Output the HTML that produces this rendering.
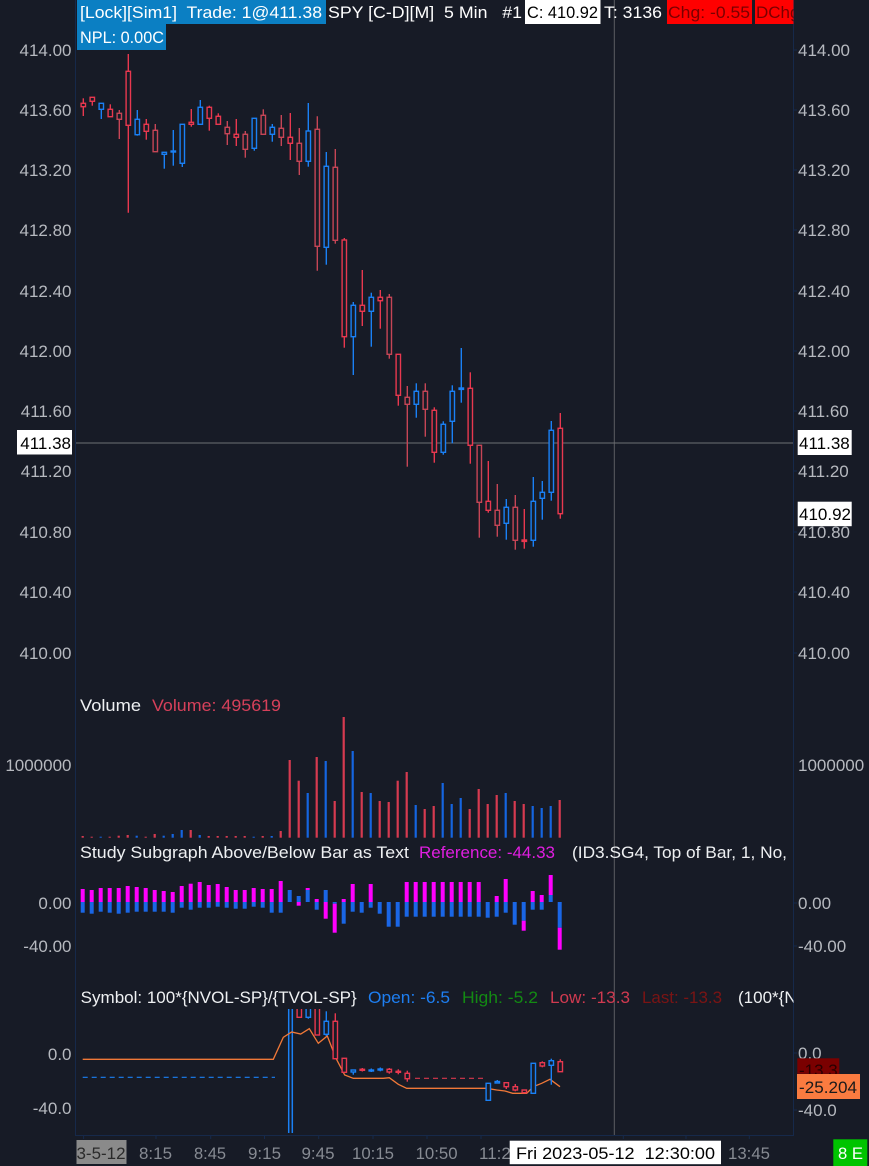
<!DOCTYPE html>
<html><head><meta charset="utf-8"><style>
html,body{margin:0;padding:0;background:#171b26;}
svg{display:block;font-family:"Liberation Sans",sans-serif;}
.ax{fill:#b6b9bf;font-size:17px;}
.tl{fill:#878b93;font-size:17px;}
.r{stroke:#e8384f}.m{stroke:#c64556}.b{stroke:#1a80f5}
.c line{stroke-width:1.4}
.c rect{fill:#171b26;stroke-width:1.4}
.vr{fill:#d63a50}.vb{fill:#1565e0}
.mg{fill:#ff00ff}.sb{fill:#1a66e6}
</style></head><body>
<svg width="869" height="1166" viewBox="0 0 869 1166" xmlns="http://www.w3.org/2000/svg">
<defs>
<clipPath id="plot"><rect x="76" y="0" width="717.5" height="1135"/></clipPath>
<clipPath id="bp"><rect x="76" y="1009" width="717.5" height="126"/></clipPath>
</defs>
<rect width="869" height="1166" fill="#171b26"/>

<!-- borders -->
<line x1="75.5" y1="0" x2="75.5" y2="1135.5" stroke="#16294a" stroke-width="1"/>
<line x1="793.5" y1="0" x2="793.5" y2="1135.5" stroke="#16294a" stroke-width="1"/>
<line x1="75" y1="1135.5" x2="794" y2="1135.5" stroke="#16294a" stroke-width="1"/>

<!-- crosshair -->
<line x1="614.3" y1="0" x2="614.3" y2="1135" stroke="#5c5e63" stroke-width="1"/>
<line x1="76" y1="443" x2="793" y2="443" stroke="#6e7074" stroke-width="1"/>

<!-- header -->
<rect x="77" y="0" width="249" height="24" fill="#0b7fc3"/>
<rect x="77" y="24" width="89" height="26" fill="#0b7fc3"/>
<text x="80" y="18" font-size="17" fill="#ffffff" textLength="242" lengthAdjust="spacingAndGlyphs" style="white-space:pre">[Lock][Sim1]  Trade: 1@411.38</text>
<text x="80" y="43" font-size="17" fill="#ffffff" textLength="84" lengthAdjust="spacingAndGlyphs">NPL: 0.00C</text>
<text x="328" y="18" font-size="17" fill="#ffffff" textLength="194" lengthAdjust="spacingAndGlyphs" style="white-space:pre">SPY [C-D][M]  5 Min   #1</text>
<rect x="525" y="0" width="75.5" height="24" fill="#ffffff"/>
<text x="527" y="18" font-size="17" fill="#000000" textLength="71" lengthAdjust="spacingAndGlyphs">C: 410.92</text>
<text x="604" y="18" font-size="17" fill="#ffffff" textLength="58" lengthAdjust="spacingAndGlyphs">T: 3136</text>
<rect x="667" y="0" width="85" height="24" fill="#ff0000"/>
<text x="668" y="18" font-size="17" fill="#7a0000" textLength="82" lengthAdjust="spacingAndGlyphs">Chg: -0.55</text>
<rect x="755" y="0" width="38.5" height="24" fill="#ff0000"/>
<g clip-path="url(#plot)"><text x="756" y="18" font-size="17" fill="#7a0000">DChg</text></g>

<!-- price axis labels left -->
<g class="ax" text-anchor="end">
<text x="71.5" y="56">414.00</text>
<text x="71.5" y="116">413.60</text>
<text x="71.5" y="176">413.20</text>
<text x="71.5" y="236">412.80</text>
<text x="71.5" y="297">412.40</text>
<text x="71.5" y="357">412.00</text>
<text x="71.5" y="417">411.60</text>
<text x="71.5" y="477">411.20</text>
<text x="71.5" y="538">410.80</text>
<text x="71.5" y="598">410.40</text>
<text x="71.5" y="659">410.00</text>
<text x="71.5" y="771">1000000</text>
<text x="71.5" y="909">0.00</text>
<text x="71.5" y="952">-40.00</text>
<text x="71.5" y="1060">0.0</text>
<text x="71.5" y="1114">-40.0</text>
</g>
<rect x="17" y="430" width="55" height="24.5" fill="#ffffff"/>
<text x="71" y="449" text-anchor="end" font-size="17" fill="#000">411.38</text>

<!-- price axis labels right -->
<g class="ax">
<text x="798" y="56">414.00</text>
<text x="798" y="116">413.60</text>
<text x="798" y="176">413.20</text>
<text x="798" y="236">412.80</text>
<text x="798" y="297">412.40</text>
<text x="798" y="357">412.00</text>
<text x="798" y="417">411.60</text>
<text x="798" y="477">411.20</text>
<text x="798" y="538">410.80</text>
<text x="798" y="598">410.40</text>
<text x="798" y="659">410.00</text>
<text x="798" y="771">1000000</text>
<text x="798" y="909">0.00</text>
<text x="798" y="952">-40.00</text>
<text x="798" y="1059">0.0</text>
<text x="798" y="1116">-40.0</text>
</g>
<g stroke="#16294a" stroke-width="1">
<line x1="794" y1="50" x2="797" y2="50"/><line x1="794" y1="110" x2="797" y2="110"/><line x1="794" y1="170" x2="797" y2="170"/><line x1="794" y1="230" x2="797" y2="230"/><line x1="794" y1="291" x2="797" y2="291"/><line x1="794" y1="351" x2="797" y2="351"/><line x1="794" y1="411" x2="797" y2="411"/><line x1="794" y1="471" x2="797" y2="471"/><line x1="794" y1="532" x2="797" y2="532"/><line x1="794" y1="592" x2="797" y2="592"/><line x1="794" y1="653" x2="797" y2="653"/><line x1="794" y1="903" x2="797" y2="903"/><line x1="794" y1="946" x2="797" y2="946"/><line x1="794" y1="1053" x2="797" y2="1053"/><line x1="794" y1="1110" x2="797" y2="1110"/>
</g>
<rect x="797.7" y="430" width="54" height="25" fill="#ffffff"/>
<text x="799" y="449" font-size="17" fill="#000">411.38</text>
<rect x="797.7" y="501.7" width="54" height="24.5" fill="#ffffff"/>
<text x="799" y="520" font-size="17" fill="#000">410.92</text>

<!-- main candles -->
<g class="c">
<g class="r"><line x1="83.3" y1="98.3" x2="83.3" y2="116"/><rect x="81.1" y="103.3" width="4.4" height="3.4"/></g>
<g class="r"><line x1="92.3" y1="97.3" x2="92.3" y2="105.7"/><rect x="90.1" y="97.3" width="4.4" height="4"/></g>
<g class="b"><line x1="101.3" y1="103.3" x2="101.3" y2="119"/><rect x="99.1" y="103.3" width="4.4" height="6"/></g>
<g class="r"><line x1="110.3" y1="104.3" x2="110.3" y2="116.7"/><rect x="108.1" y="109.3" width="4.4" height="7.4"/></g>
<g class="m"><line x1="119.3" y1="110" x2="119.3" y2="139"/><rect x="117.1" y="113.3" width="4.4" height="6"/></g>
<g class="r"><line x1="128.3" y1="54" x2="128.3" y2="212.7"/><rect x="126.1" y="71.3" width="4.4" height="54"/></g>
<g class="b"><line x1="137.3" y1="110" x2="137.3" y2="135.7"/><rect x="135.1" y="119.3" width="4.4" height="15.4"/></g>
<g class="r"><line x1="146.3" y1="119" x2="146.3" y2="139.7"/><rect x="144.1" y="124.3" width="4.4" height="7"/></g>
<g class="m"><line x1="155.3" y1="124" x2="155.3" y2="151.7"/><rect x="153.1" y="130.3" width="4.4" height="21.4"/></g>
<g class="b"><line x1="164.3" y1="152.3" x2="164.3" y2="168.7"/><rect x="162.1" y="152.3" width="4.4" height="2"/></g>
<g class="b"><line x1="173.3" y1="130" x2="173.3" y2="165.7"/><rect x="171.1" y="151" width="4.4" height="1"/></g>
<g class="b"><line x1="182.3" y1="124.3" x2="182.3" y2="167"/><rect x="180.1" y="124.3" width="4.4" height="39"/></g>
<g class="r"><line x1="191.3" y1="109" x2="191.3" y2="126.7"/><rect x="189.1" y="122.3" width="4.4" height="2"/></g>
<g class="b"><line x1="200.3" y1="100" x2="200.3" y2="125"/><rect x="198.1" y="107.3" width="4.4" height="17"/></g>
<g class="r"><line x1="209.3" y1="105.7" x2="209.3" y2="130.7"/><rect x="207.1" y="107.3" width="4.4" height="11"/></g>
<g class="r"><line x1="218.3" y1="113.3" x2="218.3" y2="124.3"/><rect x="216.1" y="116.3" width="4.4" height="8"/></g>
<g class="m"><line x1="227.3" y1="121" x2="227.3" y2="145"/><rect x="225.1" y="127.3" width="4.4" height="6.4"/></g>
<g class="r"><line x1="236.3" y1="119" x2="236.3" y2="146"/><rect x="234.1" y="134.3" width="4.4" height="3"/></g>
<g class="m"><line x1="245.3" y1="131" x2="245.3" y2="157.7"/><rect x="243.1" y="134.3" width="4.4" height="15"/></g>
<g class="b"><line x1="254.3" y1="118.3" x2="254.3" y2="150.7"/><rect x="252.1" y="118.3" width="4.4" height="30"/></g>
<g class="m"><line x1="263.3" y1="109.3" x2="263.3" y2="135"/><rect x="261.1" y="115.3" width="4.4" height="19"/></g>
<g class="b"><line x1="272.3" y1="124" x2="272.3" y2="141.7"/><rect x="270.1" y="127.3" width="4.4" height="7"/></g>
<g class="m"><line x1="281.3" y1="115" x2="281.3" y2="146"/><rect x="279.1" y="128.3" width="4.4" height="9"/></g>
<g class="r"><line x1="290.3" y1="113" x2="290.3" y2="160"/><rect x="288.1" y="137.3" width="4.4" height="6"/></g>
<g class="m"><line x1="299.3" y1="128" x2="299.3" y2="175"/><rect x="297.1" y="143.3" width="4.4" height="18"/></g>
<g class="b"><line x1="308.3" y1="103" x2="308.3" y2="166.7"/><rect x="306.1" y="131" width="4.4" height="30.3"/></g>
<g class="m"><line x1="317.3" y1="116.3" x2="317.3" y2="270.7"/><rect x="315.1" y="129.3" width="4.4" height="117"/></g>
<g class="b"><line x1="326.3" y1="152" x2="326.3" y2="264.7"/><rect x="324.1" y="166.3" width="4.4" height="81"/></g>
<g class="m"><line x1="335.3" y1="149" x2="335.3" y2="243.7"/><rect x="333.1" y="167.3" width="4.4" height="73"/></g>
<g class="r"><line x1="344.3" y1="238" x2="344.3" y2="347.7"/><rect x="342.1" y="240" width="4.4" height="96.7"/></g>
<g class="b"><line x1="353.3" y1="302" x2="353.3" y2="375"/><rect x="351.1" y="305.3" width="4.4" height="31.4"/></g>
<g class="r"><line x1="362.3" y1="270" x2="362.3" y2="326"/><rect x="360.1" y="305.3" width="4.4" height="6"/></g>
<g class="b"><line x1="371.3" y1="292.7" x2="371.3" y2="346.7"/><rect x="369.1" y="297.3" width="4.4" height="14"/></g>
<g class="r"><line x1="380.3" y1="290" x2="380.3" y2="328.7"/><rect x="378.1" y="297.3" width="4.4" height="3.4"/></g>
<g class="m"><line x1="389.3" y1="294" x2="389.3" y2="358.7"/><rect x="387.1" y="297.3" width="4.4" height="57"/></g>
<g class="r"><line x1="398.3" y1="354.3" x2="398.3" y2="405.7"/><rect x="396.1" y="354.3" width="4.4" height="41"/></g>
<g class="m"><line x1="407.3" y1="386" x2="407.3" y2="466.7"/><rect x="405.1" y="397.3" width="4.4" height="7"/></g>
<g class="b"><line x1="416.3" y1="383.3" x2="416.3" y2="417.7"/><rect x="414.1" y="391.3" width="4.4" height="13"/></g>
<g class="m"><line x1="425.3" y1="383.3" x2="425.3" y2="436.7"/><rect x="423.1" y="391.3" width="4.4" height="18"/></g>
<g class="r"><line x1="434.3" y1="407.3" x2="434.3" y2="462.7"/><rect x="432.1" y="410.3" width="4.4" height="42"/></g>
<g class="b"><line x1="443.3" y1="421.3" x2="443.3" y2="454.7"/><rect x="441.1" y="424.3" width="4.4" height="28"/></g>
<g class="b"><line x1="452.3" y1="385.3" x2="452.3" y2="443.3"/><rect x="450.1" y="391.3" width="4.4" height="30"/></g>
<g class="b"><line x1="461.3" y1="348" x2="461.3" y2="402.7"/><rect x="459.1" y="388" width="4.4" height="1.4"/></g>
<g class="r"><line x1="470.3" y1="372.3" x2="470.3" y2="463.7"/><rect x="468.1" y="388.3" width="4.4" height="57"/></g>
<g class="m"><line x1="479.3" y1="445.3" x2="479.3" y2="537.7"/><rect x="477.1" y="445.3" width="4.4" height="57"/></g>
<g class="r"><line x1="488.3" y1="461" x2="488.3" y2="512.7"/><rect x="486.1" y="501.3" width="4.4" height="9"/></g>
<g class="m"><line x1="497.3" y1="484" x2="497.3" y2="536.7"/><rect x="495.1" y="510.3" width="4.4" height="15"/></g>
<g class="b"><line x1="506.3" y1="499" x2="506.3" y2="539.7"/><rect x="504.1" y="507.3" width="4.4" height="16"/></g>
<g class="m"><line x1="515.3" y1="495" x2="515.3" y2="549.7"/><rect x="513.1" y="507.3" width="4.4" height="33"/></g>
<g class="r"><line x1="524.3" y1="509" x2="524.3" y2="548.7"/><rect x="522.1" y="540" width="4.4" height="1.4"/></g>
<g class="b"><line x1="533.3" y1="477" x2="533.3" y2="546.7"/><rect x="531.1" y="501.3" width="4.4" height="39"/></g>
<g class="b"><line x1="542.3" y1="481" x2="542.3" y2="519.7"/><rect x="540.1" y="492.3" width="4.4" height="6"/></g>
<g class="b"><line x1="551.3" y1="421" x2="551.3" y2="500.7"/><rect x="549.1" y="430.3" width="4.4" height="62"/></g>
<g class="r"><line x1="560.3" y1="413" x2="560.3" y2="518.7"/><rect x="558.1" y="428.3" width="4.4" height="85.4"/></g>
</g>

<!-- Volume -->
<text x="80" y="711" font-size="17" fill="#eef0f2" textLength="61" lengthAdjust="spacingAndGlyphs">Volume</text>
<text x="152" y="711" font-size="17" fill="#d6405a" textLength="129" lengthAdjust="spacingAndGlyphs">Volume: 495619</text>
<g>
<rect class="vr" x="81.6" y="836" width="2.2" height="1.7"/>
<rect class="vr" x="90.6" y="836.7" width="2.2" height="1"/>
<rect class="vb" x="99.6" y="836.7" width="2.2" height="1"/>
<rect class="vr" x="108.6" y="836.7" width="2.2" height="1"/>
<rect class="vr" x="117.6" y="835.7" width="2.2" height="2"/>
<rect class="vr" x="126.6" y="835" width="2.2" height="2.7"/>
<rect class="vb" x="135.6" y="835.7" width="2.2" height="2"/>
<rect class="vr" x="144.6" y="836.7" width="2.2" height="1"/>
<rect class="vr" x="153.6" y="834" width="2.2" height="3.7"/>
<rect class="vb" x="162.6" y="835.7" width="2.2" height="2"/>
<rect class="vb" x="171.6" y="834" width="2.2" height="3.7"/>
<rect class="vb" x="180.6" y="830" width="2.2" height="7.7"/>
<rect class="vr" x="189.6" y="830" width="2.2" height="7.7"/>
<rect class="vb" x="198.6" y="835" width="2.2" height="2.7"/>
<rect class="vr" x="207.6" y="836" width="2.2" height="1.7"/>
<rect class="vr" x="216.6" y="836" width="2.2" height="1.7"/>
<rect class="vr" x="225.6" y="836" width="2.2" height="1.7"/>
<rect class="vr" x="234.6" y="836" width="2.2" height="1.7"/>
<rect class="vr" x="243.6" y="836" width="2.2" height="1.7"/>
<rect class="vb" x="252.6" y="836.7" width="2.2" height="1"/>
<rect class="vr" x="261.6" y="836" width="2.2" height="1.7"/>
<rect class="vb" x="270.6" y="836" width="2.2" height="1.7"/>
<rect class="vr" x="279.6" y="831" width="2.2" height="6.7"/>
<rect class="vr" x="288.6" y="760" width="2.2" height="77.7"/>
<rect class="vr" x="297.6" y="780.7" width="2.2" height="57"/>
<rect class="vb" x="306.6" y="793" width="2.2" height="44.7"/>
<rect class="vr" x="315.6" y="757" width="2.2" height="80.7"/>
<rect class="vb" x="324.6" y="761" width="2.2" height="76.7"/>
<rect class="vr" x="333.6" y="801" width="2.2" height="36.7"/>
<rect class="vr" x="342.6" y="717" width="2.2" height="120.7"/>
<rect class="vb" x="351.6" y="751" width="2.2" height="86.7"/>
<rect class="vr" x="360.6" y="792" width="2.2" height="45.7"/>
<rect class="vb" x="369.6" y="793" width="2.2" height="44.7"/>
<rect class="vr" x="378.6" y="801" width="2.2" height="36.7"/>
<rect class="vr" x="387.6" y="802" width="2.2" height="35.7"/>
<rect class="vr" x="396.6" y="780.7" width="2.2" height="57"/>
<rect class="vr" x="405.6" y="772" width="2.2" height="65.7"/>
<rect class="vb" x="414.6" y="805" width="2.2" height="32.7"/>
<rect class="vr" x="423.6" y="809" width="2.2" height="28.7"/>
<rect class="vr" x="432.6" y="806" width="2.2" height="31.7"/>
<rect class="vb" x="441.6" y="783" width="2.2" height="54.7"/>
<rect class="vb" x="450.6" y="804" width="2.2" height="33.7"/>
<rect class="vb" x="459.6" y="798" width="2.2" height="39.7"/>
<rect class="vr" x="468.6" y="809" width="2.2" height="28.7"/>
<rect class="vr" x="477.6" y="789" width="2.2" height="48.7"/>
<rect class="vr" x="486.6" y="804" width="2.2" height="33.7"/>
<rect class="vr" x="495.6" y="795" width="2.2" height="42.7"/>
<rect class="vb" x="504.6" y="793" width="2.2" height="44.7"/>
<rect class="vr" x="513.6" y="801" width="2.2" height="36.7"/>
<rect class="vr" x="522.6" y="804" width="2.2" height="33.7"/>
<rect class="vb" x="531.6" y="806" width="2.2" height="31.7"/>
<rect class="vb" x="540.6" y="808" width="2.2" height="29.7"/>
<rect class="vb" x="549.6" y="806" width="2.2" height="31.7"/>
<rect class="vr" x="558.6" y="800" width="2.2" height="37.7"/>
</g>

<!-- Study subgraph -->
<text x="80" y="858" font-size="17" fill="#eef0f2" textLength="329" lengthAdjust="spacingAndGlyphs">Study Subgraph Above/Below Bar as Text</text>
<text x="419" y="858" font-size="17" fill="#e01ee0" textLength="136" lengthAdjust="spacingAndGlyphs">Reference: -44.33</text>
<text x="572" y="858" font-size="17" fill="#eef0f2" textLength="215" lengthAdjust="spacingAndGlyphs">(ID3.SG4, Top of Bar, 1, No,</text>
<g>
<rect class="mg" x="80.7" y="889" width="4" height="13"/><rect class="sb" x="80.7" y="902" width="4" height="10.7"/>
<rect class="mg" x="89.7" y="890" width="4" height="12"/><rect class="sb" x="89.7" y="902" width="4" height="11.7"/>
<rect class="mg" x="98.7" y="888" width="4" height="14"/><rect class="sb" x="98.7" y="902" width="4" height="9.7"/>
<rect class="mg" x="107.7" y="888" width="4" height="14"/><rect class="sb" x="107.7" y="902" width="4" height="10.7"/>
<rect class="mg" x="116.7" y="888" width="4" height="14"/><rect class="sb" x="116.7" y="902" width="4" height="11.7"/>
<rect class="mg" x="125.7" y="886" width="4" height="16"/><rect class="sb" x="125.7" y="902" width="4" height="10.7"/>
<rect class="mg" x="134.7" y="887" width="4" height="15"/><rect class="sb" x="134.7" y="902" width="4" height="9.7"/>
<rect class="mg" x="143.7" y="888" width="4" height="14"/><rect class="sb" x="143.7" y="902" width="4" height="9.7"/>
<rect class="mg" x="152.7" y="890" width="4" height="12"/><rect class="sb" x="152.7" y="902" width="4" height="9.7"/>
<rect class="mg" x="161.7" y="891" width="4" height="11"/><rect class="sb" x="161.7" y="902" width="4" height="9.7"/>
<rect class="mg" x="170.7" y="892" width="4" height="10"/><rect class="sb" x="170.7" y="902" width="4" height="10.7"/>
<rect class="mg" x="179.7" y="886" width="4" height="16"/><rect class="sb" x="179.7" y="902" width="4" height="5.7"/>
<rect class="mg" x="188.7" y="883.7" width="4" height="18.3"/><rect class="sb" x="188.7" y="902" width="4" height="7.7"/>
<rect class="mg" x="197.7" y="882" width="4" height="20"/><rect class="sb" x="197.7" y="902" width="4" height="5.7"/>
<rect class="mg" x="206.7" y="885" width="4" height="17"/><rect class="sb" x="206.7" y="902" width="4" height="5.7"/>
<rect class="mg" x="215.7" y="884" width="4" height="18"/><rect class="sb" x="215.7" y="902" width="4" height="4.7"/>
<rect class="mg" x="224.7" y="887" width="4" height="15"/><rect class="sb" x="224.7" y="902" width="4" height="5.7"/>
<rect class="mg" x="233.7" y="890" width="4" height="12"/><rect class="sb" x="233.7" y="902" width="4" height="6.7"/>
<rect class="mg" x="242.7" y="890" width="4" height="12"/><rect class="sb" x="242.7" y="902" width="4" height="6.7"/>
<rect class="mg" x="251.7" y="888" width="4" height="14"/><rect class="sb" x="251.7" y="902" width="4" height="4.7"/>
<rect class="mg" x="260.7" y="889" width="4" height="13"/><rect class="sb" x="260.7" y="902" width="4" height="5.7"/>
<rect class="mg" x="269.7" y="889" width="4" height="13"/><rect class="sb" x="269.7" y="902" width="4" height="10.7"/>
<rect class="mg" x="278.7" y="881" width="4" height="21"/><rect class="sb" x="278.7" y="902" width="4" height="10.7"/>
<rect class="sb" x="287.7" y="890" width="4" height="12"/>
<rect class="sb" x="296.7" y="896" width="4" height="6"/><rect class="mg" x="296.7" y="902" width="4" height="3.7"/>
<rect class="mg" x="305.7" y="888" width="4" height="2"/><rect class="sb" x="305.7" y="890" width="4" height="12"/>
<rect class="mg" x="314.7" y="899" width="4" height="3"/><rect class="sb" x="314.7" y="902" width="4" height="7.7"/>
<rect class="sb" x="323.7" y="890" width="4" height="12"/><rect class="mg" x="323.7" y="902" width="4" height="16.7"/>
<rect class="sb" x="332.7" y="902" width="4" height="1.7"/><rect class="mg" x="332.7" y="903.7" width="4" height="29"/>
<rect class="mg" x="341.7" y="899" width="4" height="3"/><rect class="sb" x="341.7" y="902" width="4" height="21.7"/>
<rect class="mg" x="350.7" y="884" width="4" height="18"/><rect class="sb" x="350.7" y="902" width="4" height="9.7"/>
<rect class="sb" x="359.7" y="902" width="4" height="10.7"/>
<rect class="mg" x="368.7" y="884" width="4" height="18"/><rect class="sb" x="368.7" y="902" width="4" height="5.7"/>
<rect class="sb" x="377.7" y="902" width="4" height="11.7"/>
<rect class="sb" x="386.7" y="902" width="4" height="24.7"/>
<rect class="sb" x="395.7" y="902" width="4" height="24.7"/>
<rect class="mg" x="404.7" y="882" width="4" height="20"/><rect class="sb" x="404.7" y="902" width="4" height="14.7"/>
<rect class="mg" x="413.7" y="882" width="4" height="20"/><rect class="sb" x="413.7" y="902" width="4" height="14.7"/>
<rect class="mg" x="422.7" y="882" width="4" height="20"/><rect class="sb" x="422.7" y="902" width="4" height="14.7"/>
<rect class="mg" x="431.7" y="882" width="4" height="20"/><rect class="sb" x="431.7" y="902" width="4" height="14.7"/>
<rect class="mg" x="440.7" y="882" width="4" height="20"/><rect class="sb" x="440.7" y="902" width="4" height="14.7"/>
<rect class="mg" x="449.7" y="882" width="4" height="20"/><rect class="sb" x="449.7" y="902" width="4" height="14.7"/>
<rect class="mg" x="458.7" y="882" width="4" height="20"/><rect class="sb" x="458.7" y="902" width="4" height="14.7"/>
<rect class="mg" x="467.7" y="882" width="4" height="20"/><rect class="sb" x="467.7" y="902" width="4" height="14.7"/>
<rect class="mg" x="476.7" y="882" width="4" height="20"/><rect class="sb" x="476.7" y="902" width="4" height="14.7"/>
<rect class="sb" x="485.7" y="902" width="4" height="15.7"/>
<rect class="mg" x="494.7" y="896" width="4" height="6"/><rect class="sb" x="494.7" y="902" width="4" height="14.7"/>
<rect class="mg" x="503.7" y="879" width="4" height="23"/><rect class="sb" x="503.7" y="902" width="4" height="10.7"/>
<rect class="sb" x="512.7" y="902" width="4" height="22.7"/>
<rect class="sb" x="521.7" y="902" width="4" height="18.7"/><rect class="mg" x="521.7" y="920.7" width="4" height="10"/>
<rect class="mg" x="530.7" y="891" width="4" height="11"/><rect class="sb" x="530.7" y="902" width="4" height="7.7"/>
<rect class="mg" x="539.7" y="895" width="4" height="7"/><rect class="sb" x="539.7" y="902" width="4" height="7.7"/>
<rect class="mg" x="548.7" y="875" width="4" height="20"/><rect class="sb" x="548.7" y="895" width="4" height="7"/>
<rect class="sb" x="557.7" y="902" width="4" height="25.7"/><rect class="mg" x="557.7" y="927.7" width="4" height="22"/>
</g>

<!-- Bottom panel -->
<text x="80.7" y="1003" font-size="17" fill="#eef0f2" textLength="276" lengthAdjust="spacingAndGlyphs">Symbol: 100*{NVOL-SP}/{TVOL-SP}</text>
<text x="368" y="1003" font-size="17" fill="#1e7ef0" textLength="82" lengthAdjust="spacingAndGlyphs">Open: -6.5</text>
<text x="462" y="1003" font-size="17" fill="#138a13" textLength="76" lengthAdjust="spacingAndGlyphs">High: -5.2</text>
<text x="550" y="1003" font-size="17" fill="#d03a50" textLength="80" lengthAdjust="spacingAndGlyphs">Low: -13.3</text>
<text x="642" y="1003" font-size="17" fill="#7a1414" textLength="80" lengthAdjust="spacingAndGlyphs">Last: -13.3</text>
<g clip-path="url(#plot)"><text x="738" y="1003" font-size="17" fill="#eef0f2">(100*{NVOL</text></g>

<g clip-path="url(#bp)">
<line x1="82.7" y1="1077.3" x2="275" y2="1077.3" stroke="#1a80f5" stroke-width="1.2" stroke-dasharray="5,4"/>
<line x1="415" y1="1078.3" x2="483.3" y2="1078.3" stroke="#d8384e" stroke-width="1.2" stroke-dasharray="5,4"/>
<line x1="288.7" y1="1009" x2="288.7" y2="1133" stroke="#1a80f5" stroke-width="1.5"/>
<line x1="292.3" y1="1009" x2="292.3" y2="1133" stroke="#1a80f5" stroke-width="1.5"/>
<polyline fill="none" stroke="#f07838" stroke-width="1.3" points="82.7,1059.3 273.3,1059.3 283.3,1037.3 291.7,1032 300.7,1034 309.3,1028.7 318.3,1043.3 327.3,1036 336,1058.3 344.7,1075 353.3,1078.3 383.3,1078.3 389.3,1077.7 398.3,1084.3 406.7,1088.3 486.7,1088.3 496.7,1090 505,1091 512.7,1093.3 526.7,1093.3 533.3,1086.7 541.7,1083.3 550,1079.3 560,1086.7"/>
<g class="c">
<g class="r"><rect x="297.1" y="1005" width="4.4" height="12.3"/></g>
<g class="b"><line x1="308.3" y1="1005" x2="308.3" y2="1018.7"/><rect x="306.1" y="1005" width="4.4" height="12.3"/></g>
<g class="r"><rect x="315.1" y="1005" width="4.4" height="30"/></g>
<g class="b"><line x1="326.3" y1="1011.3" x2="326.3" y2="1036"/><rect x="324.1" y="1021.3" width="4.4" height="13"/></g>
<g class="r"><line x1="335.3" y1="1013.3" x2="335.3" y2="1059.3"/><rect x="333.1" y="1021.3" width="4.4" height="37.4"/></g>
<g class="r"><rect x="342.1" y="1058.3" width="4.4" height="14"/></g>
<g class="b"><line x1="353.3" y1="1070" x2="353.3" y2="1074.7"/><rect x="351.1" y="1070" width="4.4" height="2"/></g>
<g class="r"><line x1="362.3" y1="1068" x2="362.3" y2="1071.5"/><rect x="360.1" y="1069.3" width="4.4" height="1"/></g>
<g class="b"><line x1="371.3" y1="1068.5" x2="371.3" y2="1072"/><rect x="369.1" y="1070" width="4.4" height="1"/></g>
<g class="b"><line x1="380.3" y1="1067.5" x2="380.3" y2="1071.3"/><rect x="378.1" y="1069" width="4.4" height="1"/></g>
<g class="r"><line x1="389.3" y1="1068" x2="389.3" y2="1073.7"/><rect x="387.1" y="1069.3" width="4.4" height="2.7"/></g>
<g class="r"><line x1="398.3" y1="1069.3" x2="398.3" y2="1074.3"/><rect x="396.1" y="1071.3" width="4.4" height="1"/></g>
<g class="r"><line x1="407.3" y1="1070.7" x2="407.3" y2="1081.7"/><rect x="405.1" y="1073.3" width="4.4" height="5.4"/></g>
<g class="b"><rect x="486.1" y="1083.3" width="4.4" height="17"/></g>
<g class="b"><line x1="497.3" y1="1080" x2="497.3" y2="1083.3"/><rect x="495.1" y="1081.5" width="4.4" height="1.5"/></g>
<g class="r"><line x1="506.3" y1="1082" x2="506.3" y2="1089"/><rect x="504.1" y="1082.7" width="4.4" height="4"/></g>
<g class="r"><line x1="515.3" y1="1084" x2="515.3" y2="1091.3"/><rect x="513.1" y="1086.7" width="4.4" height="3.3"/></g>
<g class="r"><rect x="522.1" y="1090" width="4.4" height="2.7"/></g>
<g class="b"><rect x="531.1" y="1063.3" width="4.4" height="30"/></g>
<g class="r"><line x1="542.3" y1="1061.3" x2="542.3" y2="1067.3"/><rect x="540.1" y="1062.7" width="4.4" height="3.3"/></g>
<g class="b"><line x1="551.3" y1="1058.7" x2="551.3" y2="1084.7"/><rect x="549.1" y="1060.7" width="4.4" height="4.6"/></g>
<g class="r"><line x1="560.3" y1="1059.3" x2="560.3" y2="1061.7"/><rect x="558.1" y="1061.7" width="4.4" height="10"/></g>
</g>
</g>

<!-- bottom right value boxes -->
<rect x="797.3" y="1058.3" width="42" height="15.5" fill="#7a0000"/>
<text x="799" y="1076" font-size="17" fill="#2a0000">-13.3</text>
<rect x="797" y="1074" width="63" height="25" fill="#fa7b40"/>
<text x="799" y="1093" font-size="17" fill="#1a1a1a" textLength="58" lengthAdjust="spacingAndGlyphs">-25.204</text>

<!-- time axis -->
<g stroke="#16294a" stroke-width="1">
<line x1="83.6" y1="1135" x2="83.6" y2="1139"/><line x1="156" y1="1135" x2="156" y2="1139"/><line x1="210.7" y1="1135" x2="210.7" y2="1139"/><line x1="264.5" y1="1135" x2="264.5" y2="1139"/><line x1="318.7" y1="1135" x2="318.7" y2="1139"/><line x1="373" y1="1135" x2="373" y2="1139"/><line x1="427" y1="1135" x2="427" y2="1139"/><line x1="481" y1="1135" x2="481" y2="1139"/><line x1="623.3" y1="1135" x2="623.3" y2="1139"/><line x1="686" y1="1135" x2="686" y2="1139"/><line x1="749.3" y1="1135" x2="749.3" y2="1139"/>
</g>
<rect x="76.5" y="1140" width="50" height="24" fill="#8a8a8a"/>
<text x="76.5" y="1159" font-size="17" fill="#2a2a2a" textLength="49" lengthAdjust="spacingAndGlyphs">3-5-12</text>
<g class="tl">
<text x="139" y="1159" textLength="33" lengthAdjust="spacingAndGlyphs">8:15</text>
<text x="194" y="1159" textLength="32" lengthAdjust="spacingAndGlyphs">8:45</text>
<text x="248" y="1159" textLength="33" lengthAdjust="spacingAndGlyphs">9:15</text>
<text x="301.5" y="1159" textLength="33" lengthAdjust="spacingAndGlyphs">9:45</text>
<text x="352" y="1159" textLength="42" lengthAdjust="spacingAndGlyphs">10:15</text>
<text x="415.6" y="1159" textLength="42" lengthAdjust="spacingAndGlyphs">10:50</text>
<text x="479" y="1159">11:25</text>
<text x="728" y="1159" textLength="42" lengthAdjust="spacingAndGlyphs">13:45</text>
</g>
<rect x="509.7" y="1140.7" width="211.3" height="23.5" fill="#ffffff"/>
<text x="516" y="1159" font-size="17" fill="#000" textLength="199" lengthAdjust="spacingAndGlyphs" style="white-space:pre">Fri 2023-05-12  12:30:00</text>
<rect x="833.3" y="1139.3" width="34" height="26.7" fill="#00c400"/>
<text x="838" y="1159" font-size="17" fill="#ffffff" textLength="25" lengthAdjust="spacingAndGlyphs" style="white-space:pre">8 E</text>
</svg>
</body></html>
